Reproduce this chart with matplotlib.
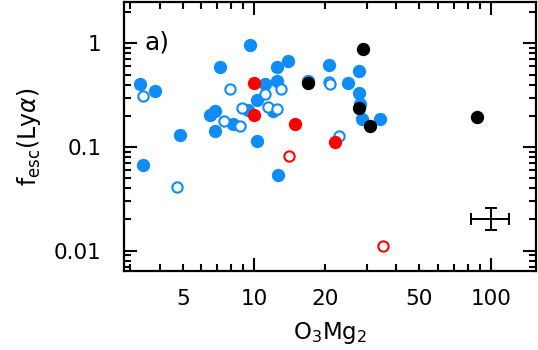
import numpy as np
import matplotlib
matplotlib.use("Agg")
from matplotlib import pyplot as plt
from matplotlib.ticker import LogLocator, FuncFormatter, NullFormatter

plt.rcParams['font.family'] = ['DejaVu Sans']
plt.rcParams['mathtext.fontset'] = 'dejavusans'

# blue filled
bf_x = [3.30, 3.82, 3.40, 4.87, 7.19, 9.62, 6.52, 6.84, 6.84, 8.15, 9.46, 10.27, 11.13,
        12.47, 12.47, 13.96, 10.27, 12.03, 12.63, 16.86, 20.75, 24.88, 27.86, 27.86,
        28.04, 28.51, 33.96]
bf_y = [0.405, 0.349, 0.0669, 0.130, 0.590, 0.974, 0.203, 0.222, 0.143, 0.166, 0.227, 0.284, 0.405,
        0.433, 0.594, 0.682, 0.113, 0.222, 0.0535, 0.433, 0.617, 0.414, 0.537, 0.334,
        0.2595, 0.1847, 0.185]
# blue open
bo_x = [3.40, 4.71, 7.92, 7.47, 8.77, 8.90, 11.13, 11.46, 13.0, 12.51, 20.84, 20.95, 22.94]
bo_y = [0.312, 0.0410, 0.360, 0.180, 0.158, 0.236, 0.324, 0.243, 0.365, 0.232, 0.428, 0.405, 0.1274]
# red filled
rf_x = [10.0, 10.0, 14.97, 21.99]
rf_y = [0.418, 0.2046, 0.166, 0.112]
# red open
ro_x = [14.02, 34.97]
ro_y = [0.0822, 0.01105]
# black filled
k_x = [28.96, 16.96, 27.86, 30.9, 87.5]
k_y = [0.881, 0.411, 0.2375, 0.158, 0.1957]

# typical error bar
err_x = [100]
err_y = [0.02]
err_xlo, err_xhi = [17.7], [19.8]
err_ylo, err_yhi = [0.0042], [0.0055]

blue = '#0f8cf5'
red = '#ff0000'

fig = plt.figure(figsize=(5.38, 3.5), dpi=100)
ax = fig.add_axes([0.2305, 0.2257, 0.7665, 0.769])

ax.plot(bf_x, bf_y, 'o', ms=9.6, mfc=blue, mec=blue, mew=0)
ax.plot(bo_x, bo_y, 'o', ms=7.4, mfc='white', mec=blue, mew=1.5)
ax.plot(rf_x, rf_y, 'o', ms=9.6, mfc=red, mec=red, mew=0)
ax.plot(ro_x, ro_y, 'o', ms=7.4, mfc='white', mec=red, mew=1.5)
ax.plot(k_x, k_y, 'o', ms=9.6, mfc='black', mec='black', mew=0)
ax.errorbar(err_x, err_y, xerr=[err_xlo, err_xhi], yerr=[err_ylo, err_yhi],
            fmt='none', ecolor='black', elinewidth=1.4, capsize=4.3, capthick=1.4)

ax.set_xscale('log')
ax.set_yscale('log')
ax.set_xlim(2.824, 156)
ax.set_ylim(0.00634, 2.52)

# ticks
ax.xaxis.set_major_locator(LogLocator(base=10))
ax.xaxis.set_minor_locator(LogLocator(base=10, subs=np.arange(2, 10)))
ax.yaxis.set_major_locator(LogLocator(base=10))
ax.yaxis.set_minor_locator(LogLocator(base=10, subs=np.arange(2, 10)))
fmt = FuncFormatter(lambda v, p: f"{v:g}")
ax.xaxis.set_major_formatter(fmt)
ax.yaxis.set_major_formatter(fmt)
ax.xaxis.set_minor_formatter(FuncFormatter(
    lambda v, p: f"{v:g}" if round(v) in (5, 20, 50) else ""))
ax.yaxis.set_minor_formatter(NullFormatter())

ax.tick_params(which='both', direction='in', top=True, right=True, width=1.5,
               labelsize=15.5, colors='black')
ax.tick_params(which='major', length=9.5)
ax.tick_params(which='minor', length=5)
ax.tick_params(axis='x', which='both', pad=13)
ax.tick_params(axis='y', which='both', pad=16)
for s in ax.spines.values():
    s.set_linewidth(1.6)

ax.set_xlabel(r'O$_3$Mg$_2$', fontsize=16.5, labelpad=8)
ax.set_ylabel(r'f$_{\rm esc}$(Ly$\alpha$)', fontsize=17, labelpad=8)
ax.text(0.05, 0.895, 'a)', transform=ax.transAxes, fontsize=18, va='top', ha='left')

fig.savefig('out.png', dpi=100)
